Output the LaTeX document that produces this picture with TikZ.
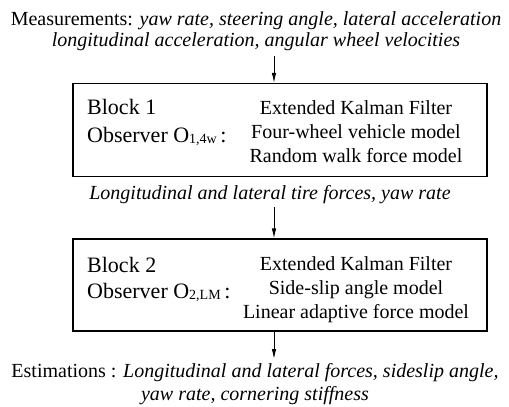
\documentclass[tikz,border=0pt]{standalone}
\usepackage{fontspec}
\setmainfont{Liberation Serif}
\usetikzlibrary{arrows.meta}
\newcommand{\obsub}[1]{\raisebox{-1pt}{\fontsize{14}{14}\selectfont #1}}
\begin{document}
\begin{tikzpicture}[x=1pt,y=-1pt,
  txt/.style={inner sep=0pt,font=\fontsize{20}{24}\selectfont,anchor=base},
  btxt/.style={inner sep=0pt,font=\fontsize{22}{26}\selectfont,anchor=base west},
  rtxt/.style={inner sep=0pt,font=\fontsize{20}{24}\selectfont,anchor=base},
  blk/.style={draw,line width=1.2pt,minimum width=414pt,inner sep=0pt},
  arr/.style={line width=0.9pt,-{Latex[length=10pt,width=4.5pt]}}]
\useasboundingbox (0,0) rectangle (509,407);
\node[txt] (m1) at (256,25) {Measurements: \textit{yaw rate, steering angle, lateral acceleration}};
\node[txt] (m2) at (256,46) {\textit{longitudinal acceleration, angular wheel velocities}};
\node[blk,minimum height=93pt] (b1) at (280,130) {};
\node[blk,minimum height=92pt] (b2) at (280,285) {};
\coordinate (a1s) at (274,56);
\draw[arr] (a1s) -- (a1s |- b1.north);
% block 1 contents
\node[btxt] (bl1) at (87,114) {Block 1};
\node[btxt] (ob1) at (87,142) {Observer O\obsub{1,4w}\,:};
\node[rtxt] (e1) at (356,114) {Extended Kalman Filter};
\node[rtxt] (f1) at (356,138) {Four-wheel vehicle model};
\node[rtxt] (r1) at (356,162) {Random walk force model};
% middle text
\node[txt] (mid) at (270,199) {\textit{Longitudinal and lateral tire forces, yaw rate}};
\coordinate (a2s) at (274,207);
\draw[arr] (a2s) -- (a2s |- b2.north);
% block 2 contents
\node[btxt] (bl2) at (87,272) {Block 2};
\node[btxt] (ob2) at (87,298) {Observer O\obsub{2,LM}\,:};
\node[rtxt] (e2) at (356,270) {Extended Kalman Filter};
\node[rtxt] (s2) at (356,294) {Side-slip angle model};
\node[rtxt] (l2) at (356,318) {Linear adaptive force model};
% output
\coordinate (a3e) at (274,359);
\draw[arr] (a3e |- b2.south) -- (a3e);
\node[txt] (est1) at (255,377) {Estimations : \textit{Longitudinal and lateral forces, sideslip angle,}};
\node[txt] (est2) at (255,400) {\textit{yaw rate, cornering stiffness}};
\end{tikzpicture}
\end{document}
